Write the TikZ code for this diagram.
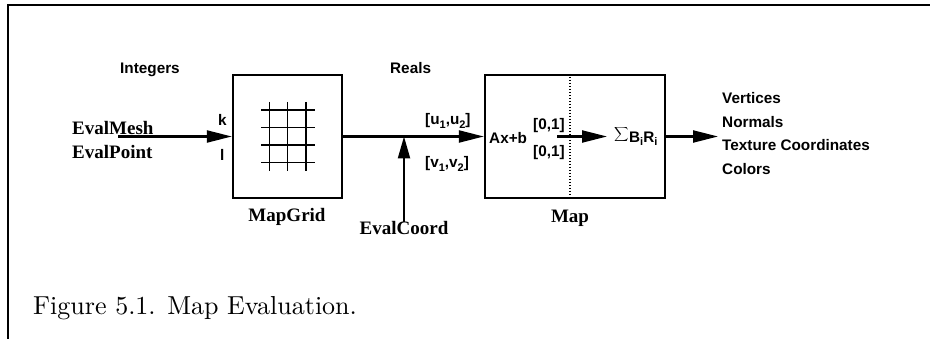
\documentclass[tikz,border=0pt]{standalone}
\usepackage{fontspec}
\usetikzlibrary{arrows.meta}
\newfontfamily\timesf{Liberation Serif}
\newfontfamily\helvf{Liberation Sans}
\newcommand{\sbs}[1]{\raisebox{-3.5pt}{\fontsize{11}{11}\selectfont #1}}
\tikzset{
  tlabel/.style={font=\timesf\bfseries\fontsize{19}{19}\selectfont, inner sep=0pt},
  hlabel/.style={font=\helvf\bfseries\fontsize{15.3}{15.3}\selectfont, inner sep=0pt},
  blockbox/.style={draw, line width=2.4pt, inner sep=0pt},
  conn/.style={line width=2.2pt, -{Triangle[length=25pt,width=12pt]}},
  gridline/.style={line width=1.1pt},
}
\begin{document}
\begin{tikzpicture}[x=1pt,y=-1pt]
\useasboundingbox (0,0) rectangle (930,339);
% frame
\draw[line width=2.6pt] (8,339) -- (8,5) -- (930,5);
% blocks
\node[blockbox, minimum width=109pt, minimum height=123pt] (mapgrid) at (287.5,136.5) {};
\node[blockbox, minimum width=180pt, minimum height=123pt] (map) at (575,136.5) {};
% grid inside MapGrid
\foreach \yy in {110,127.5,145,162.5} \draw[gridline] (261,\yy) -- (315,\yy);
\foreach \xx in {269.5,287.5,306} \draw[gridline] (\xx,102) -- (\xx,171);
% dotted separator
\draw[line width=1.6pt, dash pattern=on 1.5pt off 1.5pt] (map.north -| 570,0) -- (map.south -| 570,0);
% coordinates
\coordinate (inA) at (118,136.5);
\coordinate (junc) at (404,136.5);
\coordinate (ecbot) at (404,222);
\coordinate (innerA) at (557,136.5);
\coordinate (innerB) at (607,136.5);
\coordinate (outB) at (718,136.5);
% connectors
\draw[conn] (inA) -- (mapgrid.west |- inA);
\draw[conn] (mapgrid.east |- inA) -- (map.west |- inA);
\draw[line width=2.2pt, -{Triangle[length=22pt,width=12pt]}] (ecbot) -- (junc);
\draw[conn] (innerA) -- (innerB);
\draw[conn] (map.east |- inA) -- (outB);
% labels
\node[hlabel, anchor=base west] (integers) at (120,74) {Integers};
\node[hlabel, anchor=base west] (reals) at (390,74) {Reals};
\node[tlabel, anchor=base west] (evalmesh) at (72,135) {EvalMesh};
\node[tlabel, anchor=base west] (evalpoint) at (72,159) {EvalPoint};
\node[hlabel, anchor=base west] (klab) at (218,126) {k};
\node[hlabel, anchor=base west] (llab) at (220,161) {l};
\node[tlabel, anchor=base] (mapgridlab) at (287,222) {MapGrid};
\node[tlabel, anchor=base] (maplab) at (570,223) {Map};
\node[tlabel, anchor=base] (evalcoord) at (404,235) {EvalCoord};
\node[hlabel, anchor=base west] (ulab) at (425,125) {[u\sbs{1},u\sbs{2}]};
\node[hlabel, anchor=base west] (vlab) at (425,168) {[v\sbs{1},v\sbs{2}]};
\node[hlabel, anchor=base west] (axb) at (489,144) {Ax+b};
\node[hlabel, anchor=base west] (int1) at (533,130) {[0,1]};
\node[hlabel, anchor=base west] (int2) at (533,157) {[0,1]};
\node[hlabel, anchor=base west] (sumlab) at (614,142.5) {\raisebox{4.5pt}{$\displaystyle\sum$}\hspace{0.5pt}B\sbs{i}R\sbs{i}};
\node[hlabel, anchor=base west] (vert) at (722,104) {Vertices};
\node[hlabel, anchor=base west] (norm) at (722,127.5) {Normals};
\node[hlabel, anchor=base west] (tex) at (722,151) {Texture Coordinates};
\node[hlabel, anchor=base west] (col) at (722,174.5) {Colors};
\node[anchor=base west, inner sep=0pt] (caption) at (33,315) {\scalebox{2.6}{\fontsize{10}{12}\selectfont Figure 5.1. Map Evaluation.}};
\end{tikzpicture}
\end{document}
